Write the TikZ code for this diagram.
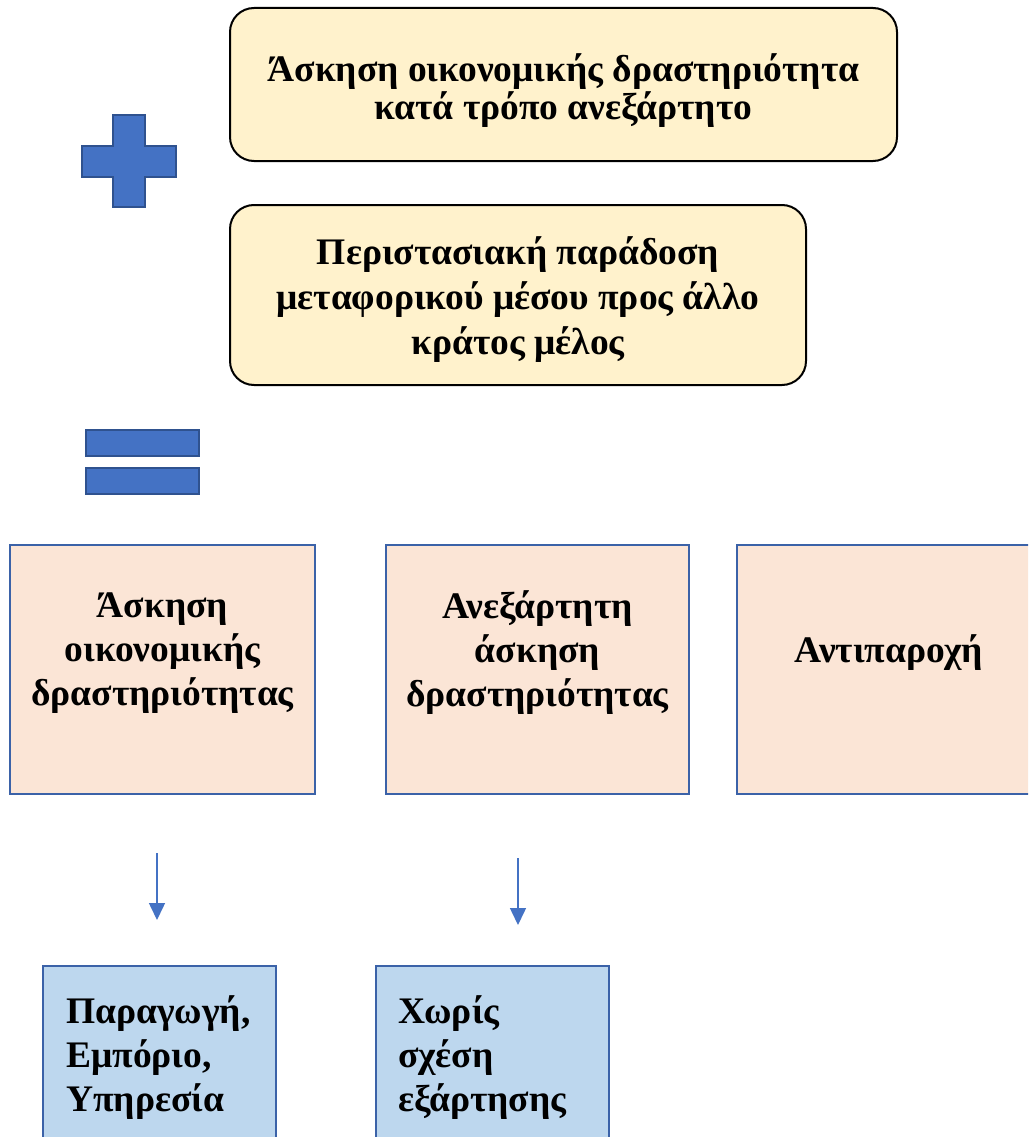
\documentclass[tikz,border=0pt]{standalone}
\usepackage{fontspec}
\setmainfont{Liberation Serif}
\usetikzlibrary{arrows.meta}
\definecolor{yel}{HTML}{FFF2CC}
\definecolor{peach}{HTML}{FBE5D6}
\definecolor{lblue}{HTML}{BDD7EE}
\definecolor{mblue}{HTML}{4472C4}
\definecolor{dblue}{HTML}{2F528F}
\definecolor{bblue}{HTML}{3B62A8}
\tikzset{
  topbox/.style={draw=black, line width=2pt, fill=yel, rounded corners=24pt},
  peachbox/.style={draw=bblue, line width=2pt, fill=peach},
  bluebox/.style={draw=bblue, line width=2pt, fill=lblue},
  sym/.style={draw=dblue, line width=2pt, fill=mblue},
  txt/.style={font=\fontsize{37.5}{44}\selectfont\bfseries, align=center, inner sep=0pt},
  ltxt/.style={font=\fontsize{37.5}{44}\selectfont\bfseries, align=left, inner sep=0pt, anchor=north west},
  arr/.style={draw=mblue, line width=1.5pt, -{Triangle[width=16pt,length=17pt]}},
}
\begin{document}
\begin{tikzpicture}[x=1pt,y=-1pt]
\clip (0,0) rectangle (1028,1137);
\fill[white] (0,0) rectangle (1028,1137);
% top boxes
\draw[topbox] (230,8) rectangle (897,161);
\node[txt, font=\fontsize{37.5}{38}\selectfont\bfseries] (t1) at (563.5,91) {Άσκηση οικονομικής δραστηριότητα\\κατά τρόπο ανεξάρτητο};
\draw[topbox] (230,205) rectangle (806,385);
\node[txt, font=\fontsize{37.5}{45}\selectfont\bfseries] (t2) at (518,300) {Περιστασιακή παράδοση\\μεταφορικού μέσου προς άλλο\\κράτος μέλος};
% plus
\draw[sym] (113,115) -- (145,115) -- (145,146) -- (176,146) -- (176,177) -- (145,177) -- (145,207) -- (113,207) -- (113,177) -- (82,177) -- (82,146) -- (113,146) -- cycle;
% equals
\draw[sym] (86,430) rectangle (199,456);
\draw[sym] (86,468) rectangle (199,494);
% peach boxes
\draw[peachbox] (10,545) rectangle (315,794);
\node[txt] (p1) at (162.5,653) {Άσκηση\\οικονομικής\\δραστηριότητας};
\draw[peachbox] (386,545) rectangle (689,794);
\node[txt] (p2) at (537.5,653) {Ανεξάρτητη\\άσκηση\\δραστηριότητας};
\draw[peachbox] (737,545) rectangle (1045,794);
\node[txt] (p3) at (889,653) {Αντιπαροχή};
% arrows
\coordinate (a1s) at (157,853);
\coordinate (a1e) at (157,920);
\coordinate (a2s) at (518,858);
\coordinate (a2e) at (518,925);
\draw[arr] (a1s) -- (a1e);
\draw[arr] (a2s) -- (a2e);
% blue boxes
\draw[bluebox] (43,966) rectangle (276,1150);
\node[ltxt] (b1) at (66,995) {Παραγωγή,\\Εμπόριο,\\Υπηρεσία};
\draw[bluebox] (376,966) rectangle (609,1150);
\node[ltxt] (b2) at (398,995) {Χωρίς\\σχέση\\εξάρτησης};
\end{tikzpicture}
\end{document}
